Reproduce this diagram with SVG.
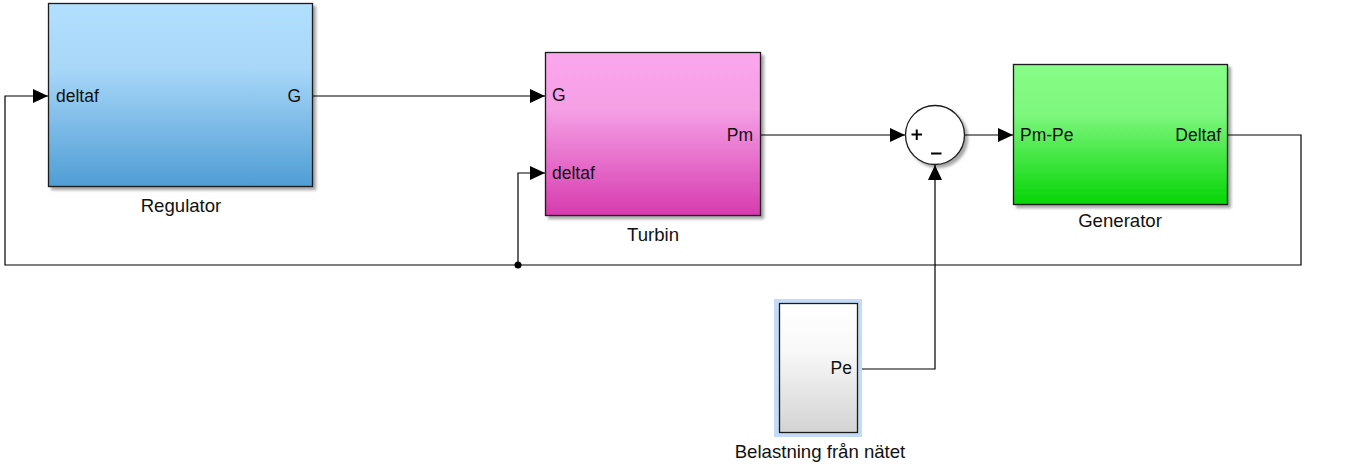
<svg xmlns="http://www.w3.org/2000/svg" width="1352" height="471" viewBox="0 0 1352 471">
<defs>
<linearGradient id="gBlue" x1="0" y1="0" x2="0" y2="1">
<stop offset="0" stop-color="#b2dffe"/><stop offset="0.35" stop-color="#a8d7f8"/><stop offset="1" stop-color="#4f9dd5"/>
</linearGradient>
<linearGradient id="gPink" x1="0" y1="0" x2="0" y2="1">
<stop offset="0" stop-color="#fba7ed"/><stop offset="0.35" stop-color="#f59fe5"/><stop offset="1" stop-color="#d63bae"/>
</linearGradient>
<linearGradient id="gGreen" x1="0" y1="0" x2="0" y2="1">
<stop offset="0" stop-color="#86fd86"/><stop offset="0.35" stop-color="#7ef77e"/><stop offset="1" stop-color="#05d405"/>
</linearGradient>
<linearGradient id="gGray" x1="0" y1="0" x2="0" y2="1">
<stop offset="0" stop-color="#ffffff"/><stop offset="0.35" stop-color="#f9f9f9"/><stop offset="1" stop-color="#d3d3d3"/>
</linearGradient>
<filter id="sh" x="-10%" y="-10%" width="130%" height="130%">
<feGaussianBlur in="SourceAlpha" stdDeviation="1.5"/>
<feOffset dx="3" dy="3" result="b"/>
<feComponentTransfer><feFuncA type="linear" slope="0.35"/></feComponentTransfer>
<feMerge><feMergeNode/><feMergeNode in="SourceGraphic"/></feMerge>
</filter>
<marker id="arr" markerWidth="15" markerHeight="14" refX="15" refY="7" orient="auto" markerUnits="userSpaceOnUse">
<path d="M0,0 L15,7 L0,14 Z" fill="#000"/>
</marker>
<style>
.blk{stroke:#1a1a1a;stroke-width:1.3}
.t{font-family:"Liberation Sans",Arial,sans-serif;font-size:17.5px;fill:#111}
.lbl{font-family:"Liberation Sans",Arial,sans-serif;font-size:18.6px;fill:#111;text-anchor:middle}
.end{text-anchor:end}
.ln{fill:none;stroke:#000;stroke-width:1.2}
</style>
</defs>
<g id="connectors">
<path class="ln" d="M1228,135 H1301 V265 H5 V96 H48" marker-end="url(#arr)"/>
<path class="ln" d="M518,265 V173 H545" marker-end="url(#arr)"/>
<path class="ln" d="M312,96 H545" marker-end="url(#arr)"/>
<path class="ln" d="M761,135 H905" marker-end="url(#arr)"/>
<path class="ln" d="M965,135 H1013" marker-end="url(#arr)"/>
<path class="ln" d="M857,369 H935 V165" marker-end="url(#arr)"/>
<circle cx="518" cy="265" r="3.5" fill="#000"/>
</g>
<g id="regulator">
<rect class="blk" x="48.5" y="3.5" width="264" height="183" fill="url(#gBlue)" filter="url(#sh)"/>
<text class="t" x="56" y="102">deltaf</text>
<text class="t end" x="301" y="102">G</text>
<text class="lbl" x="181" y="212">Regulator</text>
</g>
<g id="turbin">
<rect class="blk" x="545.5" y="52.5" width="215" height="163" fill="url(#gPink)" filter="url(#sh)"/>
<text class="t" x="552" y="101">G</text>
<text class="t end" x="753" y="141">Pm</text>
<text class="t" x="552" y="179">deltaf</text>
<text class="lbl" x="653" y="241">Turbin</text>
</g>
<g id="sum">
<circle cx="935" cy="135" r="29.5" fill="#fff" stroke="#1a1a1a" stroke-width="1.3" filter="url(#sh)"/>
<path d="M911.5,134.5 H922 M916.75,129.5 V140" stroke="#000" stroke-width="2"/>
<path d="M931,153.5 H941.5" stroke="#000" stroke-width="2"/>
</g>
<g id="generator">
<rect class="blk" x="1013.5" y="64.5" width="214" height="140" fill="url(#gGreen)" filter="url(#sh)"/>
<text class="t" x="1020" y="141">Pm-Pe</text>
<text class="t end" x="1221" y="141">Deltaf</text>
<text class="lbl" x="1120" y="227">Generator</text>
</g>
<g id="belastning">
<rect x="774" y="299" width="88" height="138" fill="#c3dbf6"/>
<rect class="blk" x="779.5" y="303.5" width="78" height="129" fill="url(#gGray)"/>
<text class="t end" x="852" y="374">Pe</text>
<text class="lbl" x="820" y="458">Belastning från nätet</text>
</g>
</svg>
